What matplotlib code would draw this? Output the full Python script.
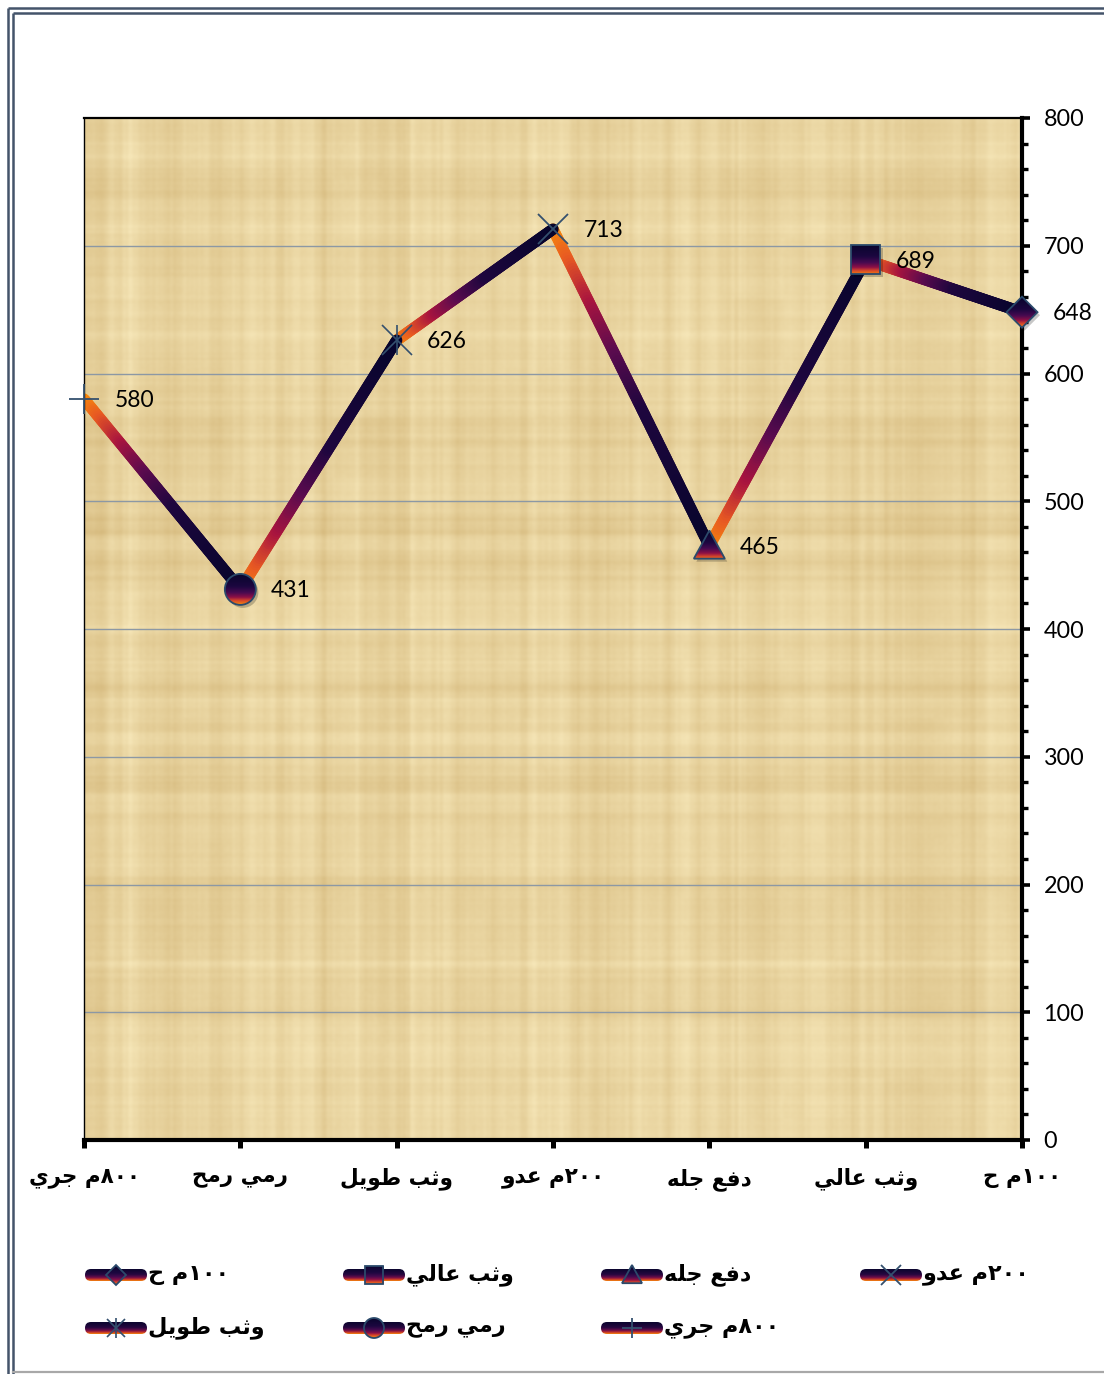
import numpy as np
import matplotlib
matplotlib.use("Agg")
import matplotlib.pyplot as plt
from matplotlib.collections import LineCollection
from matplotlib.colors import LinearSegmentedColormap
from matplotlib.patches import Polygon, Rectangle, Ellipse, FancyBboxPatch
from matplotlib.transforms import offset_copy
from matplotlib.ticker import MultipleLocator, FixedLocator

# ---------------------------------------------------------------- data
categories = ["١٠٠م ح", "وثب عالي", "دفع جله", "٢٠٠م عدو",
              "وثب طويل", "رمي رمح", "٨٠٠م جري"]
scores = [648, 689, 465, 713, 626, 431, 580]
marker_kinds = ["D", "s", "^", "x", "*", "o", "+"]
y_ticks = [0, 100, 200, 300, 400, 500, 600, 700, 800]

# ---------------------------------------------------------------- arabic shaping
# isolated, final, initial, medial presentation forms
FORMS = {
    "\u0627": ("\uFE8D", "\uFE8E", None, None),
    "\u0628": ("\uFE8F", "\uFE90", "\uFE91", "\uFE92"),
    "\u062B": ("\uFE99", "\uFE9A", "\uFE9B", "\uFE9C"),
    "\u062C": ("\uFE9D", "\uFE9E", "\uFE9F", "\uFEA0"),
    "\u062D": ("\uFEA1", "\uFEA2", "\uFEA3", "\uFEA4"),
    "\u062F": ("\uFEA9", "\uFEAA", None, None),
    "\u0631": ("\uFEAD", "\uFEAE", None, None),
    "\u0637": ("\uFEC1", "\uFEC2", "\uFEC3", "\uFEC4"),
    "\u0639": ("\uFEC9", "\uFECA", "\uFECB", "\uFECC"),
    "\u0641": ("\uFED1", "\uFED2", "\uFED3", "\uFED4"),
    "\u0644": ("\uFEDD", "\uFEDE", "\uFEDF", "\uFEE0"),
    "\u0645": ("\uFEE1", "\uFEE2", "\uFEE3", "\uFEE4"),
    "\u0647": ("\uFEE9", "\uFEEA", "\uFEEB", "\uFEEC"),
    "\u0648": ("\uFEED", "\uFEEE", None, None),
    "\u064A": ("\uFEF1", "\uFEF2", "\uFEF3", "\uFEF4"),
}


def shape(s):
    out = []
    for i, c in enumerate(s):
        if c not in FORMS:
            out.append(c)
            continue
        prev = s[i - 1] if i > 0 else None
        nxt = s[i + 1] if i + 1 < len(s) else None
        jp = prev in FORMS and FORMS[prev][2] is not None
        jn = FORMS[c][2] is not None and nxt in FORMS
        iso, fin, ini, med = FORMS[c]
        if jp and jn:
            out.append(med)
        elif jp:
            out.append(fin)
        elif jn:
            out.append(ini)
        else:
            out.append(iso)
    return "".join(out)


def visual(s):
    runs = []
    for ch in shape(s):
        d = ch.isdigit()
        if runs and runs[-1][0] == d:
            runs[-1][1] += ch
        else:
            runs.append([d, ch])
    return "".join(t if d else t[::-1] for d, t in reversed(runs))


# ---------------------------------------------------------------- colours
line_cmap = LinearSegmentedColormap.from_list("seg", [
    (0.00, "#f88d0b"), (0.10, "#e85a22"), (0.24, "#a8143f"),
    (0.40, "#5a0b4e"), (0.58, "#1e063e"), (1.00, "#07052c")])
marker_cmap = LinearSegmentedColormap.from_list("mk", [
    (0.00, "#08052c"), (0.40, "#1c0740"), (0.60, "#470a50"),
    (0.75, "#8e1046"), (0.86, "#d8482a"), (1.00, "#f68a0c")])
bar_cmap = LinearSegmentedColormap.from_list("bar", [
    (0.00, "#0a052e"), (0.45, "#26073f"), (0.70, "#6e0d4a"),
    (0.85, "#c4322c"), (1.00, "#f68a0c")])
edge_col = "#2b4a6b"
thin_col = "#34506e"

vgrad = np.linspace(0, 1, 128)[:, None]

# ---------------------------------------------------------------- figure
W, H = 1104, 1374
fig = plt.figure(figsize=(W / 100, H / 100), dpi=100)
fig.patch.set_facecolor("white")

L, R, T, B = 84, 1022, 118, 1140
ax = fig.add_axes([L / W, 1 - B / H, (R - L) / W, (B - T) / H], zorder=2)
n = len(categories)
xmin, xmax = 0, n - 1
sx = (R - L) / (xmax - xmin)
sy = (B - T) / 800.0

# papyrus texture
rng = np.random.default_rng(11)
tw, th = R - L, B - T


def smooth1d(v, k):
    ker = np.ones(k) / k
    return np.convolve(v, ker, mode="same")


cols = (smooth1d(rng.normal(size=tw), 2) + 1.2 * smooth1d(rng.normal(size=tw), 9) * 3
        + 1.0 * smooth1d(rng.normal(size=tw), 40) * 6)
rows = (smooth1d(rng.normal(size=th), 2) + 1.2 * smooth1d(rng.normal(size=th), 9) * 3
        + 1.0 * smooth1d(rng.normal(size=th), 40) * 6)
blk = np.zeros((th, tw))
for bh, bw, wgt in ((60, 50, 0.5), (25, 20, 0.3)):
    b = rng.normal(size=(th // bh + 2, tw // bw + 2))
    blk += wgt * np.kron(b, np.ones((bh, bw)))[:th, :tw]
fine = rng.normal(size=(th, tw))
val = 0.55 * cols[None, :] + 0.45 * rows[:, None] + 0.3 * blk + 0.3 * fine
# soften the texture
for _ in range(2):
    for axis in (0, 1):
        val = (np.roll(val, 1, axis) + val + np.roll(val, -1, axis)) / 3
val = (val - val.mean()) / val.std()
t = np.clip(0.42 + 0.13 * val, 0, 1)[..., None]
light = np.array([245, 229, 182]) / 255
dark = np.array([214, 186, 126]) / 255
tex = light * (1 - t) + dark * t
ax.imshow(tex, extent=(0, 1, 0, 1), transform=ax.transAxes, aspect="auto",
          zorder=0, interpolation="bilinear")

# horizontal gridlines
for v in y_ticks[1:-1]:
    ax.axhline(v, color="#8c98a4", lw=1.0, zorder=1)

# gradient line segments: left end orange, right end navy
xs = np.arange(n)
for k in range(n - 1):
    x_left, y_left = xs[k + 1], scores[k + 1]
    x_right, y_right = xs[k], scores[k]
    m = 120
    tt = np.linspace(0, 1, m + 1)
    px = x_left + (x_right - x_left) * tt
    py = y_left + (y_right - y_left) * tt
    segs = np.stack([np.column_stack([px[:-1], py[:-1]]),
                     np.column_stack([px[1:], py[1:]])], axis=1)
    lc = LineCollection(segs, cmap=line_cmap, linewidths=8.2,
                        capstyle="round", zorder=3)
    lc.set_array((tt[:-1] + tt[1:]) / 2)
    lc.set_clim(0, 1)
    ax.add_collection(lc)


def marker_patch(kind, x, y, hx, hy, **kw):
    if kind == "D":
        return Polygon([(x, y + hy), (x + hx, y), (x, y - hy), (x - hx, y)],
                       closed=True, **kw)
    if kind == "s":
        return Rectangle((x - hx * 0.93, y - hy * 0.93), 2 * hx * 0.93,
                         2 * hy * 0.93, **kw)
    if kind == "^":
        return Polygon([(x, y + hy), (x + hx, y - hy * 0.82),
                        (x - hx, y - hy * 0.82)], closed=True, **kw)
    return Ellipse((x, y), 2 * hx, 2 * hy, **kw)


def draw_marker(axis, kind, x, y, hx, hy, size_pt, shadow_tr=None, z=4):
    if kind in ("D", "s", "^", "o"):
        if shadow_tr is not None:
            sh = marker_patch(kind, x, y, hx, hy, facecolor=(0, 0, 0, 0.22),
                              edgecolor="none", transform=shadow_tr, zorder=z)
            sh.set_clip_on(False)
            axis.add_patch(sh)
        outline = marker_patch(kind, x, y, hx, hy, facecolor="none",
                               edgecolor=edge_col, lw=1.3, zorder=z + 0.2)
        outline.set_clip_on(False)
        axis.add_patch(outline)
        im = axis.imshow(vgrad, cmap=marker_cmap, vmin=0, vmax=1,
                         extent=(x - hx, x + hx, y - hy, y + hy),
                         origin="upper", aspect="auto", zorder=z + 0.1,
                         interpolation="bilinear")
        im.set_clip_box(fig.bbox)
        im.set_clip_path(outline)
    else:
        if kind == "*":
            axis.plot([x], [y], marker="x", ms=size_pt * 0.95, mew=1.2,
                      color=thin_col, zorder=z, clip_on=False)
            axis.plot([x], [y], marker="|", ms=size_pt, mew=1.2,
                      color=thin_col, zorder=z, clip_on=False)
        else:
            axis.plot([x], [y], marker=kind, ms=size_pt, mew=1.3,
                      color=thin_col, zorder=z, clip_on=False)


shadow_tr = offset_copy(ax.transData, fig=fig, x=2.5, y=-3, units="dots")
hpx = 15.5
for i in range(n):
    draw_marker(ax, marker_kinds[i], xs[i], scores[i], hpx / sx, hpx / sy,
                31 / 1.389, shadow_tr=shadow_tr, z=6)

# value labels
for i in range(n):
    ax.annotate(str(scores[i]), (xs[i], scores[i]), xytext=(22, -1),
                textcoords="offset points", ha="left", va="center",
                fontsize=16.5, family="Lato", color="black", zorder=7,
                annotation_clip=False)

# axes styling
ax.set_xlim(xmax, xmin)
ax.set_ylim(0, 800)
ax.yaxis.tick_right()
ax.yaxis.set_major_locator(FixedLocator(y_ticks))
ax.yaxis.set_minor_locator(MultipleLocator(20))
ax.set_yticklabels([str(v) for v in y_ticks], family="Lato", fontsize=16.8)
ax.tick_params(axis="y", which="major", direction="out", length=5.5,
               width=2.6, pad=10, color="black")
ax.tick_params(axis="y", which="minor", direction="out", length=4.5,
               width=2.4, color="black")
ax.set_xticks(xs)
ax.set_xticklabels([visual(c) for c in categories], family="DejaVu Sans",
                   fontweight="bold", fontsize=15.5)
ax.tick_params(axis="x", direction="out", length=6, width=3.6, pad=14,
               color="black")
ax.spines["right"].set_linewidth(3.0)
ax.spines["bottom"].set_linewidth(3.0)
ax.spines["top"].set_linewidth(1.6)
ax.spines["left"].set_linewidth(1.0)
for s in ax.spines.values():
    s.set_color("black")
    s.set_zorder(5)

# ---------------------------------------------------------------- overlay: frame and legend
ov = fig.add_axes([0, 0, 1, 1], zorder=1)
ov.set_xlim(0, W)
ov.set_ylim(H, 0)
ov.axis("off")
ov.patch.set_alpha(0)

frame_col = "#44546a"
ov.plot([7.5, W], [8, 8], color=frame_col, lw=1.8, solid_capstyle="butt")
ov.plot([12.5, W], [13, 13], color=frame_col, lw=1.8, solid_capstyle="butt")
ov.plot([7.5, 7.5], [8, H], color=frame_col, lw=1.8, solid_capstyle="butt")
ov.plot([12.5, 12.5], [13, H], color=frame_col, lw=1.8, solid_capstyle="butt")
ov.plot([12.5, W], [1372, 1372], color="#a8a8a8", lw=1.6)

leg_cols = [85, 343, 601, 860]
leg_rows = [1275, 1328]
bar_w, bar_h = 62, 12
for i in range(n):
    r, c = divmod(i, 4)
    x0, yc = leg_cols[c], leg_rows[r]
    bar = FancyBboxPatch((x0, yc - bar_h / 2), bar_w, bar_h,
                         boxstyle="round,pad=0,rounding_size=6",
                         facecolor="none", edgecolor="none")
    ov.add_patch(bar)
    im = ov.imshow(vgrad, cmap=bar_cmap, vmin=0, vmax=1,
                   extent=(x0, x0 + bar_w, yc + bar_h / 2, yc - bar_h / 2),
                   origin="upper", aspect="auto", interpolation="bilinear")
    im.set_clip_path(bar)
    draw_marker(ov, marker_kinds[i], x0 + bar_w / 2, yc, 10, -10,
                20 / 1.389, z=3)
    ov.text(x0 + bar_w + 1, yc, visual(categories[i]), ha="left",
            va="center", family="DejaVu Sans", fontweight="bold",
            fontsize=16, color="black")

ov.set_xlim(0, W)
ov.set_ylim(H, 0)

fig.savefig("out.png", dpi=100)
